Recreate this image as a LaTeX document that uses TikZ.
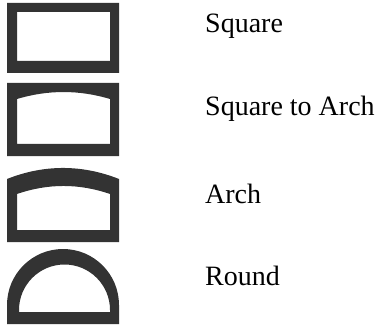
\documentclass[tikz,border=0pt]{standalone}
\usepackage{fontspec}
\setmainfont{Liberation Serif}
\usetikzlibrary{positioning}
\definecolor{frame}{HTML}{333333}

\begin{document}
\begin{tikzpicture}[x=1pt, y=-1pt,
    frm/.style={fill=frame, even odd rule},
    lbl/.style={anchor=base west, inner sep=0pt, font=\fontsize{28}{30}\selectfont}]
    \useasboundingbox (0,0) rectangle (380,326);
    % square
    \path[frm] (7,3) rectangle (119,73) (17,12) rectangle (110,61);
    % square to arch
    \path[frm] (7,83) rectangle (119,156)
        (17,144) -- (17,99) .. controls (48,89.7) and (79,89.7) .. (110,99) -- (110,144) -- cycle;
    % arch
    \path[frm] (7,242) -- (7,179) .. controls (44,164.3) and (82,164.3) .. (119,179) -- (119,242) -- cycle
        (17,230) -- (17,194) .. controls (48,183.3) and (79,183.3) .. (110,194) -- (110,230) -- cycle;
    % round
    \path[frm] (7,324) -- (7,305) arc[start angle=180, end angle=360, radius=56] -- (119,324) -- cycle
        (19,312) -- (19,310) arc[start angle=180, end angle=360, radius=45.5] -- (110,312) -- cycle;
    \node[lbl] (square) at (205,33) {Square};
    \node[lbl] (sqarch) at (205,116) {Square to Arch};
    \node[lbl] (arch) at (205,203) {Arch};
    \node[lbl] (round) at (205,285) {Round};
\end{tikzpicture}
\end{document}
